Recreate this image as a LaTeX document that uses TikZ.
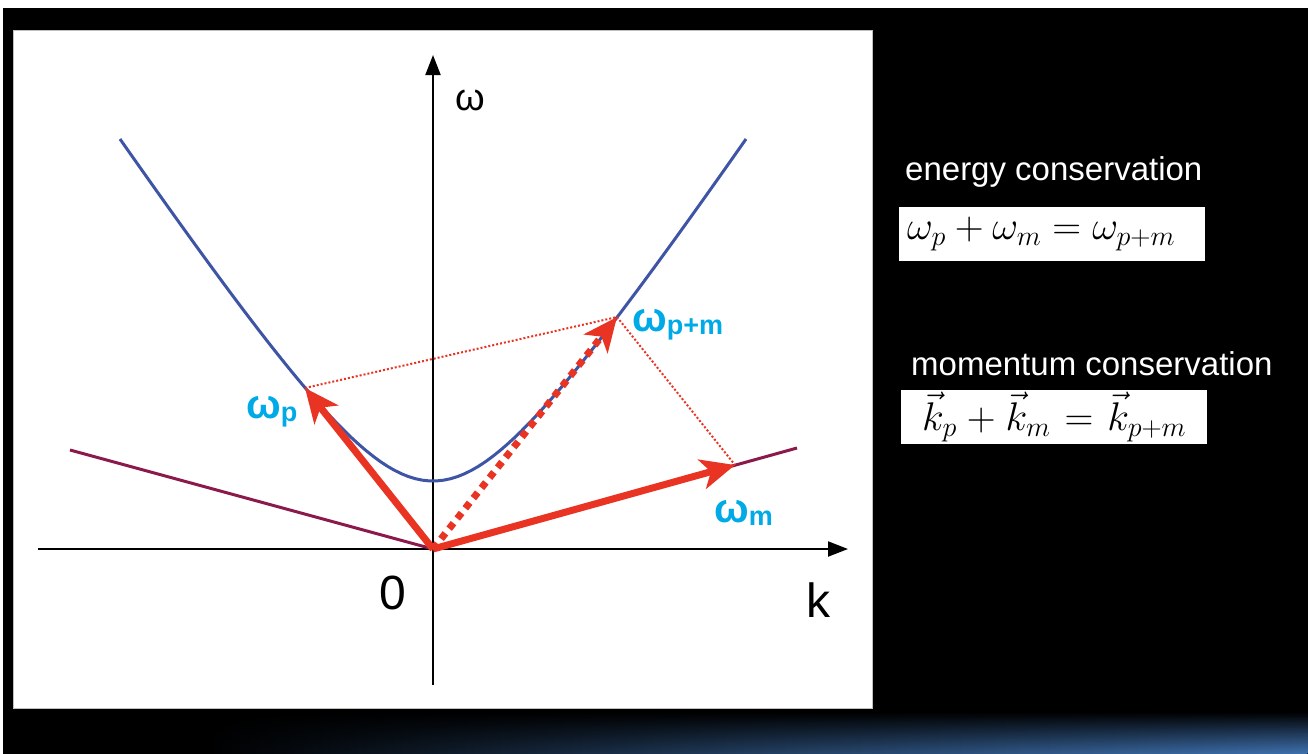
\RequirePackage{fix-cm}
\documentclass[tikz,border=0pt]{standalone}
\usepackage[no-math]{fontspec}
\setmainfont{Liberation Sans}
\usetikzlibrary{arrows.meta,fadings}
\definecolor{dispblue}{RGB}{62,84,165}
\definecolor{lightline}{RGB}{140,25,75}
\definecolor{vecred}{RGB}{233,52,36}
\definecolor{labcyan}{RGB}{0,170,230}
\definecolor{glowblue}{RGB}{62,112,172}
\tikzset{every node/.style={inner sep=0pt},line cap=round,line join=round}
\tikzset{
  axis/.style={line width=2pt,-{Triangle[length=20pt,width=15pt]}},
  disp/.style={dispblue,line width=3pt},
  light/.style={lightline,line width=3pt},
  wave/.style={vecred,line width=7pt,line cap=butt,-{Stealth[length=34pt,width=30pt,inset=9pt]}},
  guide/.style={vecred,line width=2pt,line cap=butt,dash pattern=on 2pt off 2pt},
  lab/.style={labcyan,anchor=base west,font=\bfseries\fontsize{41}{41}\selectfont},
  eqbox/.style={fill=white,minimum height=54pt,font=\fontsize{40}{42}\selectfont}
}
\newcommand{\wsub}[1]{ω\raisebox{-3pt}{\fontsize{27}{27}\selectfont #1}}

\begin{document}
\begin{tikzpicture}[x=1pt,y=-1pt]
  \useasboundingbox (0,0) rectangle (1308,753);
  \fill[white] (-10,-10) rectangle (1320,770);
  \fill[black] (3,8) rectangle (1320,770);
  \shade[left color=black,right color=glowblue,middle color=glowblue!55!black,path fading=north] (200,712) rectangle (1308,753);
  \draw[gray!50,fill=white] (13,30) rectangle (872,708);

  % axes
  \coordinate (O) at (433,549);
  \coordinate (kL) at (38,549);
  \coordinate (kR) at (848,549);
  \coordinate (wB) at (433,685);
  \coordinate (wT) at (433,55);
  \draw[axis] (kL) -- (kR);
  \draw[axis] (wB) -- (wT);
  \node[font=\fontsize{38}{40}\selectfont] (wlab) at (470,100) {ω};
  \node[font=\fontsize{48}{50}\selectfont] (zero) at (393,593) {0};
  \node[font=\fontsize{48}{50}\selectfont] (klab) at (818,600) {k};

  % dispersion curves
  \draw[disp] plot[domain=-313:313,samples=90] ({433+\x},{631-100*sqrt(2.25+2.241*(\x/100)*(\x/100))});
  \coordinate (dL) at (70,450);
  \coordinate (dR) at (797,448);
  \draw[light] (dL) -- (O) -- (dR);

  % wave vectors
  \coordinate (P) at (305,388);
  \coordinate (PM) at (617,317);
  \coordinate (M) at (735,465);
  \draw[guide] (P) -- (PM) -- (M);
  \draw[wave] (O) -- (P);
  \draw[wave] (O) -- (M);
  \draw[wave,dash pattern=on 7pt off 6pt] (O) -- (PM);
  \node[lab] (lp) at (246,418) {\wsub{p}};
  \node[lab] (lpm) at (632,331) {\wsub{p+m}};
  \node[lab] (lm) at (714,522) {\wsub{m}};

  % conservation laws
  \node[white,anchor=base west,font=\fontsize{33}{36}\selectfont] (ecap) at (905,180) {energy conservation};
  \node[eqbox,anchor=west,minimum width=306pt,inner xsep=8pt,text width=290pt,align=left] (eqE) at (899,234)
    {$\omega_p+\omega_m=\omega_{p+m}$};
  \node[white,anchor=base west,font=\fontsize{33}{36}\selectfont] (mcap) at (911,375) {momentum conservation};
  \node[eqbox,anchor=west,minimum width=306pt,text width=306pt,align=center] (eqM) at (901,417)
    {$\vec{k}_p+\vec{k}_m=\vec{k}_{p+m}$};
\end{tikzpicture}
\end{document}
